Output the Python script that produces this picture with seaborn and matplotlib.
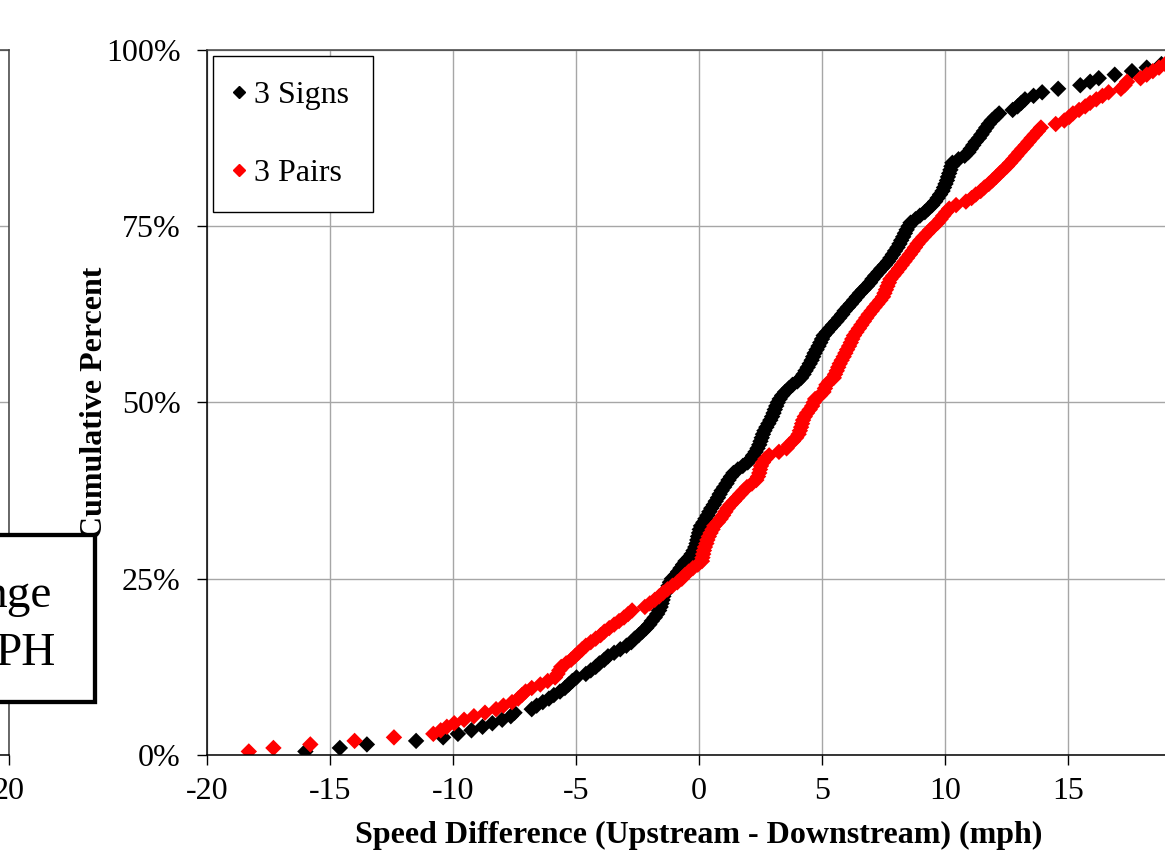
import numpy as np
import pandas as pd
import matplotlib
matplotlib.use("Agg")
import matplotlib.pyplot as plt
from matplotlib.lines import Line2D
from matplotlib.patches import Rectangle
from matplotlib.ticker import PercentFormatter
import seaborn as sns

# ---- data -------------------------------------------------------------
series_names = ["3 Signs", "3 Pairs"]
series_colors = ["black", "red"]

# sorted speed differences (upstream - downstream), mph
signs_speed_diff = [
    -16.0, -14.6, -13.5, -11.5, -10.4, -9.8, -9.25, -8.8, -8.4, -8.0,
    -7.65, -7.5, -6.8, -6.6, -6.35, -6.1, -5.9, -5.65, -5.45, -5.3,
    -5.15, -4.98, -4.6, -4.4, -4.2, -4.05, -3.85, -3.7, -3.45, -3.2,
    -2.95, -2.75, -2.62, -2.45, -2.3, -2.15, -2.02, -1.92, -1.8, -1.7,
    -1.62, -1.56, -1.52, -1.48, -1.45, -1.38, -1.3, -1.24, -1.18, -1.1,
    -0.95, -0.85, -0.75, -0.65, -0.55, -0.4, -0.3, -0.22, -0.15, -0.1,
    -0.07, -0.04, 0.0, 0.03, 0.08, 0.18, 0.26, 0.35, 0.42, 0.5,
    0.6, 0.68, 0.77, 0.84, 0.92, 1.02, 1.12, 1.2, 1.3, 1.4,
    1.58, 1.78, 1.98, 2.1, 2.2, 2.3, 2.38, 2.45, 2.5, 2.55,
    2.6, 2.66, 2.74, 2.82, 2.9, 2.97, 3.03, 3.08, 3.14, 3.2,
    3.28, 3.38, 3.5, 3.65, 3.8, 4.0, 4.15, 4.25, 4.33, 4.42,
    4.5, 4.58, 4.64, 4.7, 4.78, 4.86, 4.93, 5.0, 5.07, 5.2,
    5.32, 5.45, 5.58, 5.7, 5.82, 5.92, 6.05, 6.18, 6.3, 6.42,
    6.54, 6.68, 6.82, 6.95, 7.05, 7.17, 7.3, 7.42, 7.56, 7.68,
    7.78, 7.88, 7.97, 8.07, 8.15, 8.22, 8.3, 8.37, 8.44, 8.52,
    8.6, 8.8, 8.98, 9.18, 9.32, 9.48, 9.6, 9.7, 9.8, 9.9,
    9.96, 10.02, 10.08, 10.12, 10.17, 10.22, 10.26, 10.3, 10.55, 10.8,
    10.95, 11.05, 11.15, 11.25, 11.38, 11.48, 11.58, 11.68, 11.78, 11.9,
    12.05, 12.2, 12.75, 12.95, 13.1, 13.25, 13.6, 13.95, 14.6, 15.5,
    15.9, 16.25, 16.9, 17.6, 18.2, 18.8, 19.6, 20.5, 22.0, 24.5,
]

pairs_speed_diff = [
    -18.3, -17.3, -15.8, -14.0, -12.4, -10.8, -10.5, -10.25, -9.95, -9.55,
    -9.15, -8.7, -8.25, -7.95, -7.6, -7.35, -7.2, -7.05, -6.8, -6.45,
    -6.15, -5.85, -5.75, -5.68, -5.6, -5.4, -5.2, -5.05, -4.9, -4.75,
    -4.6, -4.4, -4.2, -4.0, -3.85, -3.65, -3.45, -3.25, -3.05, -2.88,
    -2.72, -2.2, -2.0, -1.8, -1.62, -1.46, -1.28, -1.08, -0.88, -0.7,
    -0.58, -0.42, -0.25, -0.05, 0.12, 0.14, 0.17, 0.2, 0.24, 0.3,
    0.34, 0.4, 0.47, 0.55, 0.62, 0.76, 0.88, 0.98, 1.07, 1.16,
    1.28, 1.42, 1.55, 1.68, 1.82, 1.95, 2.15, 2.33, 2.4, 2.45,
    2.48, 2.52, 2.6, 2.7, 2.85, 3.25, 3.56, 3.66, 3.82, 3.95,
    4.05, 4.1, 4.15, 4.19, 4.23, 4.3, 4.39, 4.5, 4.6, 4.66,
    4.72, 4.92, 5.06, 5.12, 5.18, 5.3, 5.48, 5.53, 5.6, 5.66,
    5.72, 5.8, 5.88, 5.95, 6.02, 6.1, 6.17, 6.23, 6.3, 6.4,
    6.5, 6.6, 6.7, 6.8, 6.9, 7.02, 7.13, 7.25, 7.37, 7.48,
    7.54, 7.6, 7.66, 7.72, 7.78, 7.9, 8.02, 8.13, 8.24, 8.35,
    8.46, 8.57, 8.68, 8.78, 8.88, 9.0, 9.13, 9.27, 9.4, 9.55,
    9.7, 9.82, 9.93, 10.05, 10.17, 10.45, 10.85, 11.08, 11.25, 11.45,
    11.6, 11.78, 11.93, 12.08, 12.22, 12.37, 12.52, 12.65, 12.78, 12.9,
    13.02, 13.15, 13.28, 13.4, 13.52, 13.65, 13.78, 13.9, 14.5, 14.85,
    15.05, 15.2, 15.45, 15.7, 15.9, 16.15, 16.4, 16.65, 17.15, 17.3,
    17.4, 17.95, 18.2, 18.45, 18.7, 18.95, 19.6, 20.6, 22.0, 25.0,
]

x_ticks = [-20, -15, -10, -5, 0, 5, 10, 15, 20]
y_ticks = [0, 25, 50, 75, 100]
x_label = "Speed Difference (Upstream - Downstream) (mph)"
y_label = "Cumulative Percent"
side_note = ["nge", "PH"]

# cumulative percent of each observation within its layout
frames = []
for name, vals in zip(series_names, [signs_speed_diff, pairs_speed_diff]):
    v = np.sort(np.asarray(vals, dtype=float))
    n = len(v)
    frames.append(pd.DataFrame({"speed": v,
                                "cum_pct": np.arange(1, n + 1) / n * 100.0,
                                "layout": name}))
df = pd.concat(frames, ignore_index=True)

# ---- styling ----------------------------------------------------------
sns.set_theme(style="white")
plt.rcParams["font.family"] = "serif"
plt.rcParams["font.serif"] = ["Liberation Serif", "DejaVu Serif"]
plt.rcParams["axes.unicode_minus"] = False
plt.rcParams["text.color"] = "black"
plt.rcParams["axes.labelcolor"] = "black"

W, H = 1165, 850
fig = plt.figure(figsize=(W / 100, H / 100), dpi=100)
fig.patch.set_facecolor("white")

unit_px = 24.6
ax_w = 40 * unit_px / W
ax_b = (H - 755) / H
ax_h = 705 / H
ax = fig.add_axes([207 / W, ax_b, ax_w, ax_h])
ax_prev = fig.add_axes([(9 - 40 * unit_px) / W, ax_b, ax_w, ax_h])


def style_panel(a):
    a.set_xlim(-20, 20)
    a.set_ylim(0, 100)
    a.set_xticks(x_ticks)
    a.set_yticks(y_ticks)
    a.grid(True, color="#a6a6a6", linewidth=1.0)
    a.set_axisbelow(True)
    for side, sp in a.spines.items():
        sp.set_visible(True)
        sp.set_linewidth(1.1)
        sp.set_color("black" if side in ("left", "bottom") else "#404040")
    a.tick_params(axis="both", direction="out", length=7, width=1,
                  color="black", labelsize=23, labelcolor="black")
    a.tick_params(axis="x", pad=9, bottom=True)
    a.tick_params(axis="y", pad=12, left=True)
    a.yaxis.set_major_formatter(PercentFormatter(100, decimals=0))
    a.set_facecolor("white")


style_panel(ax_prev)
ax_prev.tick_params(axis="y", labelleft=False)
style_panel(ax)

sns.scatterplot(data=df, x="speed", y="cum_pct", hue="layout",
                hue_order=series_names, palette=series_colors,
                marker="D", s=70, linewidth=0, legend=False, ax=ax)

ax.set_xlim(-20, 20)
ax.set_ylim(0, 100)
ax.set_xlabel(x_label, fontsize=23, fontweight="bold", labelpad=10.5)
ax.set_ylabel(y_label, fontsize=23, fontweight="bold", labelpad=-2)

handles = [Line2D([], [], marker="D", color=c, linestyle="", markersize=6,
                  label=n) for n, c in zip(series_names, series_colors)]
leg = ax.legend(handles=handles, loc="upper left", fontsize=23,
                frameon=True, fancybox=False, framealpha=1, edgecolor="black",
                borderaxespad=0.2, borderpad=0.75, labelspacing=1.53,
                handlelength=0.1, handletextpad=0.43)
leg.get_frame().set_linewidth(1.0)

# framed note sitting across the panel gap
note_box = Rectangle((-20 / W, (H - 702) / H), (95 + 20) / W, (702 - 535) / H,
                     transform=fig.transFigure, facecolor="white",
                     edgecolor="black", linewidth=3.1, zorder=10)
fig.add_artist(note_box)
fig.text(52 / W, (H - 607) / H, side_note[0], ha="right", va="baseline",
         fontsize=34, zorder=11)
fig.text(56 / W, (H - 665) / H, side_note[1], ha="right", va="baseline",
         fontsize=34, zorder=11)

fig.savefig("out.png", dpi=100)
